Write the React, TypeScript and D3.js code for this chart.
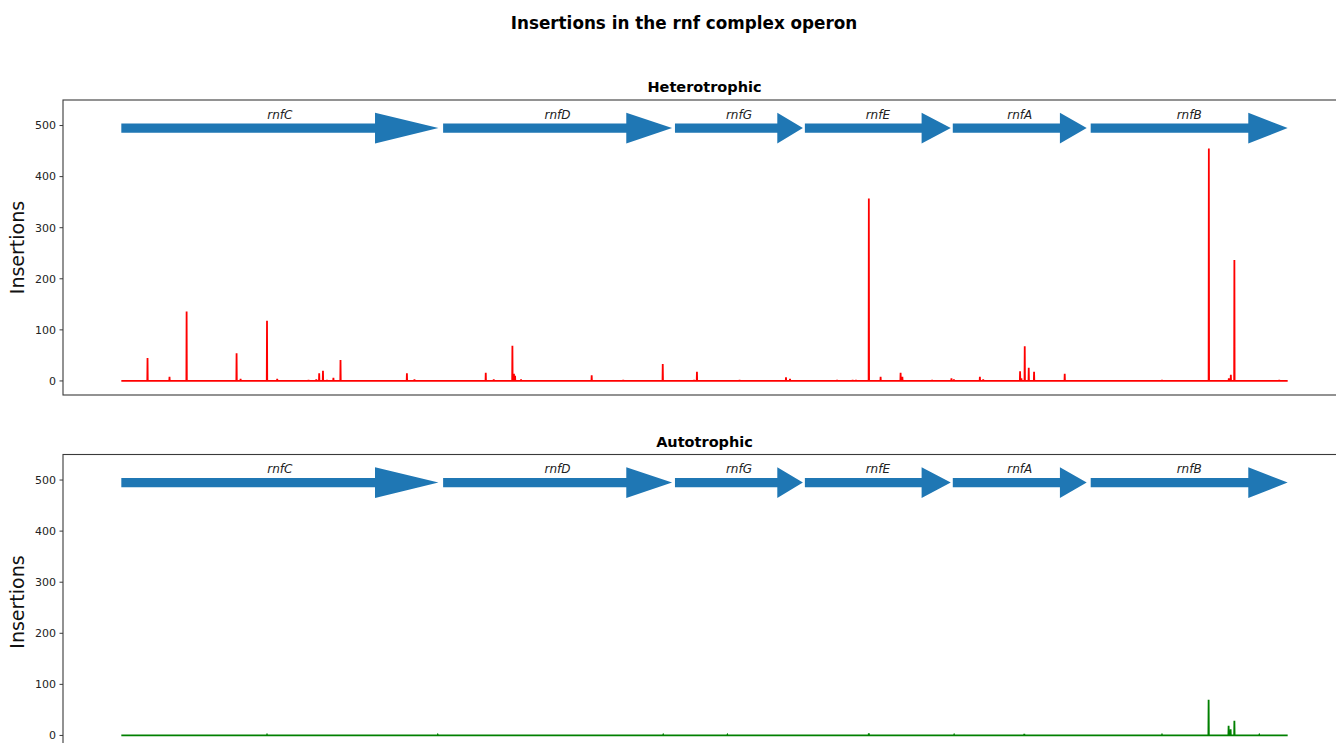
import React from "react";
import * as d3 from "d3";

// Gene annotations (bp coordinates within the operon region)
const geneNames = ["rnfC", "rnfD", "rnfG", "rnfE", "rnfA", "rnfB"];
const geneStarts = [0, 1449, 2493, 3078, 3744, 4365];
const geneEnds = [1428, 2480, 3069, 3735, 4347, 5252];

const regionStart = 0;
const regionEnd = 5252;

// Heterotrophic insertion counts: positions (bp) and counts
const heteroPos = [118, 217, 294, 519, 537, 656, 702, 843, 878, 891, 908, 926, 955, 987, 1286, 1320,
  1641, 1677, 1761, 1768, 1773, 1800, 2118, 2260, 2438, 2579, 2592, 2784, 2993, 3011, 3223, 3293, 3308,
  3366, 3419, 3509, 3517, 3651, 3738, 3749, 3866, 3881, 4047, 4053, 4068, 4086, 4110, 4248, 4686,
  4897, 4987, 4996, 5012, 5214];
const heteroVal = [45, 8, 136, 54, 4, 118, 4, 2, 3, 15, 20, 2, 6, 41, 15, 3,
  16, 3, 69, 14, 10, 3, 11, 2, 33, 2, 18, 2, 7, 4, 2, 2, 2,
  357, 8, 16, 8, 2, 5, 3, 8, 3, 19, 5, 68, 26, 18, 14, 2,
  455, 5, 12, 237, 2];

// Autotrophic insertion counts
const autoPos = [656, 1425, 2440, 2729, 3366, 3750, 4066, 4686, 4896, 4986, 4995, 5012, 5124];
const autoVal = [1, 1, 1, 1, 4, 1, 3, 1, 70, 19, 12, 29, 1];

const yTicks = [0, 100, 200, 300, 400, 500];

const W = 1336;
const H = 743;
const left = 63;
const right = 1346;
const axH = 295;
const panels = [
  { title: "Heterotrophic", top: 100, pos: heteroPos, val: heteroVal, color: "#ff0000" },
  { title: "Autotrophic", top: 454.5, pos: autoPos, val: autoVal, color: "#008000" },
];

const font = "'DejaVu Sans', sans-serif";

function buildPoints(pos: number[], val: number[]): [number, number][] {
  const pts: [number, number][] = [[regionStart, 0]];
  pos.forEach((p, i) => {
    pts.push([p - 1, 0], [p, val[i]], [p + 1, 0]);
  });
  pts.push([regionEnd, 0]);
  return pts;
}

function Panel({ p }: { p: typeof panels[number] }) {
  const span = regionEnd - regionStart;
  const x = d3.scaleLinear().domain([regionStart - span * 0.05, regionEnd + span * 0.05]).range([left, right]);
  const y = d3.scaleLinear().domain([-27.5, 550]).range([p.top + axH, p.top]);
  const line = d3.line<[number, number]>().x((d) => x(d[0])).y((d) => y(d[1]));
  const pts = buildPoints(p.pos, p.val);

  const arrowY = 495;
  const bodyW = 18;
  const headW = 60;

  return (
    <g>
      <defs>
        <clipPath id={"clip-" + p.title}>
          <rect x={left} y={p.top} width={right - left} height={axH} />
        </clipPath>
      </defs>
      <text x={(left + right) / 2} y={p.top - 8} textAnchor="middle"
        fontFamily={font} fontWeight="bold" fontSize={14.5} fill="#000">{p.title}</text>
      <g clipPath={`url(#clip-${p.title})`}>
        {geneNames.map((g, i) => {
          const s = geneStarts[i];
          const e = geneEnds[i];
          const hl = (e - s) * 0.2;
          const poly: [number, number][] = [
            [s, arrowY + bodyW / 2], [e - hl, arrowY + bodyW / 2], [e - hl, arrowY + headW / 2],
            [e, arrowY], [e - hl, arrowY - headW / 2], [e - hl, arrowY - bodyW / 2], [s, arrowY - bodyW / 2],
          ];
          return (
            <g key={g}>
              <polygon points={poly.map((q) => `${x(q[0])},${y(q[1])}`).join(" ")} fill="#1f77b4" />
              <text x={x((s + e) / 2)} y={y(513)} textAnchor="middle" fontFamily={font}
                fontStyle="italic" fontSize={12} fill="#222">{g}</text>
            </g>
          );
        })}
        <path d={line(pts) || ""} fill="none" stroke={p.color} strokeWidth={1.8} strokeLinejoin="miter" />
      </g>
      <rect x={left} y={p.top} width={right - left} height={axH} fill="none" stroke="#3a3a3a" strokeWidth={1.1} />
      {yTicks.map((t) => (
        <g key={t}>
          <line x1={left - 3.5} x2={left} y1={y(t)} y2={y(t)} stroke="#3a3a3a" strokeWidth={1} />
          <text x={left - 7} y={y(t)} dy="0.35em" textAnchor="end" fontFamily={font} fontSize={11} fill="#222">{t}</text>
        </g>
      ))}
      <text transform={`translate(24,${p.top + axH / 2}) rotate(-90)`} textAnchor="middle"
        fontFamily={font} fontSize={19} fill="#111">Insertions</text>
    </g>
  );
}

export default function App() {
  return (
    <svg width={W} height={H} style={{ position: "absolute", left: 0, top: 0, background: "#fff" }}>
      <rect width={W} height={H} fill="#fff" />
      <text x={684} y={29} textAnchor="middle" fontFamily={font} fontWeight="bold" fontSize={16.8} fill="#000">
        Insertions in the rnf complex operon
      </text>
      {panels.map((p) => <Panel key={p.title} p={p} />)}
    </svg>
  );
}
